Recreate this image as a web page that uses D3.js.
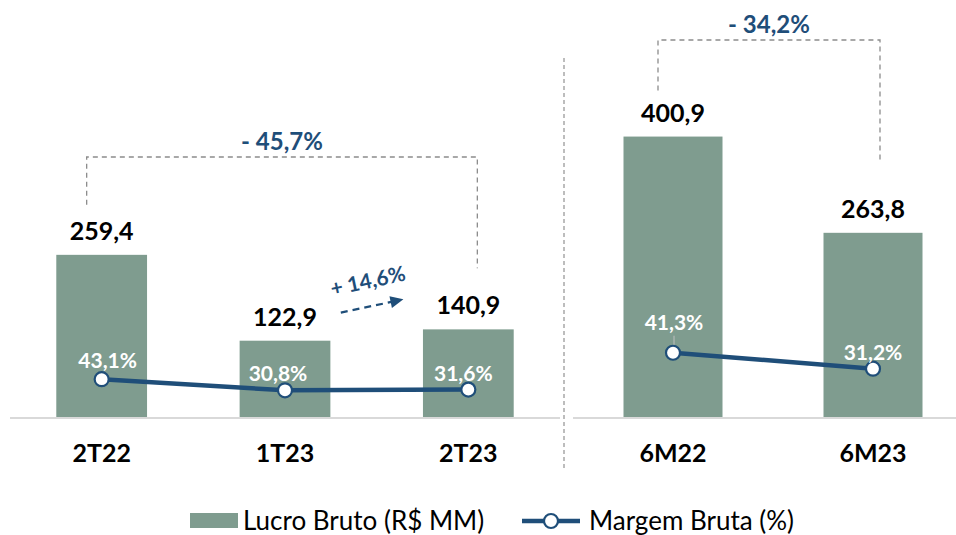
<!DOCTYPE html>
<html><head><meta charset="utf-8">
<script src="https://cdn.jsdelivr.net/npm/d3@7"></script>
<style>body{margin:0;background:#fff}svg{display:block;font-family:Lato,sans-serif}</style>
</head><body><svg id="c" width="956" height="535"></svg>
<script>
const quarters = ["2T22","1T23","2T23"];
const quarterLucro = [259.4,122.9,140.9];
const quarterMargem = [43.1,30.8,31.6];
const semesters = ["6M22","6M23"];
const semesterLucro = [400.9,263.8];
const semesterMargem = [41.3,31.2];
const varQuarterYoY = "- 45,7%";
const varQuarterQoQ = "+ 14,6%";
const varSemester = "- 34,2%";
const legendLabels = ["Lucro Bruto (R$ MM)","Margem Bruta (%)"];

const fmt = v => v.toFixed(1).replace(".",",");
const barColor = "#7F9C8F", lineColor = "#1F4E79";
const svg = d3.select("#c");
const base = 418;

function panel(cats, lucro, margem, xr, barMax, lineMax, barRangeTop, lineRangeTop){
  const x = d3.scaleBand().domain(cats).range(xr).paddingInner(0.505).paddingOuter(0.2525);
  const yB = d3.scaleLinear().domain([0,barMax]).range([base, barRangeTop]);
  const yL = d3.scaleLinear().domain([0,lineMax]).range([base, lineRangeTop]);
  const cx = c => x(c) + x.bandwidth()/2;
  const g = svg.append("g");
  g.selectAll("rect.bar").data(cats).join("rect").attr("class","bar")
    .attr("x", c=>x(c)).attr("width", x.bandwidth())
    .attr("y", (c,i)=>yB(lucro[i])).attr("height",(c,i)=>base-yB(lucro[i]))
    .attr("fill", barColor);
  g.selectAll("text.val").data(cats).join("text").attr("class","val")
    .attr("x", cx).attr("y",(c,i)=>yB(lucro[i])-15).attr("text-anchor","middle")
    .attr("font-size",25).attr("font-weight",700).attr("fill","#000")
    .text((c,i)=>fmt(lucro[i]));
  const line = d3.line().x((d,i)=>cx(cats[i])).y(d=>yL(d));
  g.append("path").datum(margem).attr("d",line).attr("fill","none")
    .attr("stroke",lineColor).attr("stroke-width",4.5);
  g.selectAll("circle").data(margem).join("circle")
    .attr("cx",(d,i)=>cx(cats[i])).attr("cy",d=>yL(d)).attr("r",7)
    .attr("fill","#fff").attr("stroke",lineColor).attr("stroke-width",2.2);
  const ax = g.append("g").attr("transform",`translate(0,${base})`)
    .call(d3.axisBottom(x).tickSize(0).tickPadding(26));
  ax.select(".domain").attr("stroke","#d9d9d9").attr("stroke-width",2)
    .attr("d",`M${xr[0]},0H${Math.min(xr[1],956)}`);
  ax.selectAll("text").attr("font-size",25).attr("font-weight",700)
    .attr("fill","#000").attr("font-family","Lato,sans-serif");
  return {x, yB, yL, cx, g};
}

const L = panel(quarters, quarterLucro, quarterMargem, [10,560], 500, 100, 103.5, 328);
const R = panel(semesters, semesterLucro, semesterMargem, [573,973], 500, 100, 67, 260);
svg.selectAll(".tick text").attr("dy","0.7em");

function pctLabels(P, cats, margem, offs){
  P.g.selectAll("text.pct").data(margem).join("text").attr("class","pct")
    .attr("x",(d,i)=>P.cx(cats[i])+offs[i][0]).attr("y",(d,i)=>P.yL(d)+offs[i][1])
    .attr("text-anchor","middle").attr("font-size",21).attr("font-weight",700)
    .attr("fill","#fff").text(d=>fmt(d)+"%");
}
pctLabels(L, quarters, quarterMargem, [[6,-11],[-7,-9],[-5,-9]]);
pctLabels(R, semesters, semesterMargem, [[1,-23],[0,-9]]);
R.g.append("line").attr("x1",R.cx("6M22")+1).attr("x2",R.cx("6M22")+1)
  .attr("y1",R.yL(semesterMargem[0])-17).attr("y2",R.yL(semesterMargem[0])-8)
  .attr("stroke","#bfbfbf").attr("stroke-width",1);

svg.append("line").attr("x1",564).attr("x2",564).attr("y1",58).attr("y2",468)
  .attr("stroke","#9a9a9a").attr("stroke-width",1.3).attr("stroke-dasharray","4,3");

function bracket(x1,y1,x2,y2,top,label){
  svg.append("path").attr("d",`M${x1},${y1}V${top}H${x2}V${y2}`)
    .attr("fill","none").attr("stroke","#8c8c8c").attr("stroke-width",1.3)
    .attr("stroke-dasharray","5,4");
  svg.append("text").attr("x",(x1+x2)/2).attr("y",top-7).attr("text-anchor","middle")
    .attr("font-size",24).attr("font-weight",700).attr("fill",lineColor).text(label);
}
bracket(L.cx("2T22")-15, L.yB(quarterLucro[0])-50, L.cx("2T23")+9, L.yB(quarterLucro[2])-61, 157, varQuarterYoY);
bracket(R.cx("6M22")-15, R.yB(semesterLucro[0])-46, R.cx("6M23")+7, R.yB(semesterLucro[1])-70, 40, varSemester);

const ag = svg.append("g").attr("transform","translate(371,296) rotate(-12)");
ag.append("text").attr("x",0).attr("y",-8).attr("text-anchor","middle")
  .attr("font-size",21).attr("font-weight",700).attr("fill",lineColor).text(varQuarterQoQ);
ag.append("line").attr("x1",-33).attr("x2",20).attr("y1",10).attr("y2",10)
  .attr("stroke",lineColor).attr("stroke-width",2.2).attr("stroke-dasharray","7,5");
ag.append("path").attr("d","M18,4 L31,10 L18,16 Z").attr("fill",lineColor);

const lg = svg.append("g");
lg.append("rect").attr("x",190).attr("y",513).attr("width",48).attr("height",15).attr("fill",barColor);
lg.append("text").attr("x",243).attr("y",530).attr("font-size",26).attr("fill","#000").text(legendLabels[0]);
lg.append("line").attr("x1",522).attr("x2",580).attr("y1",521).attr("y2",521)
  .attr("stroke",lineColor).attr("stroke-width",4.5);
lg.append("circle").attr("cx",551).attr("cy",521).attr("r",7).attr("fill","#fff")
  .attr("stroke",lineColor).attr("stroke-width",2.2);
lg.append("text").attr("x",589).attr("y",530).attr("font-size",26).attr("fill","#000").text(legendLabels[1]);
</script></body></html>
